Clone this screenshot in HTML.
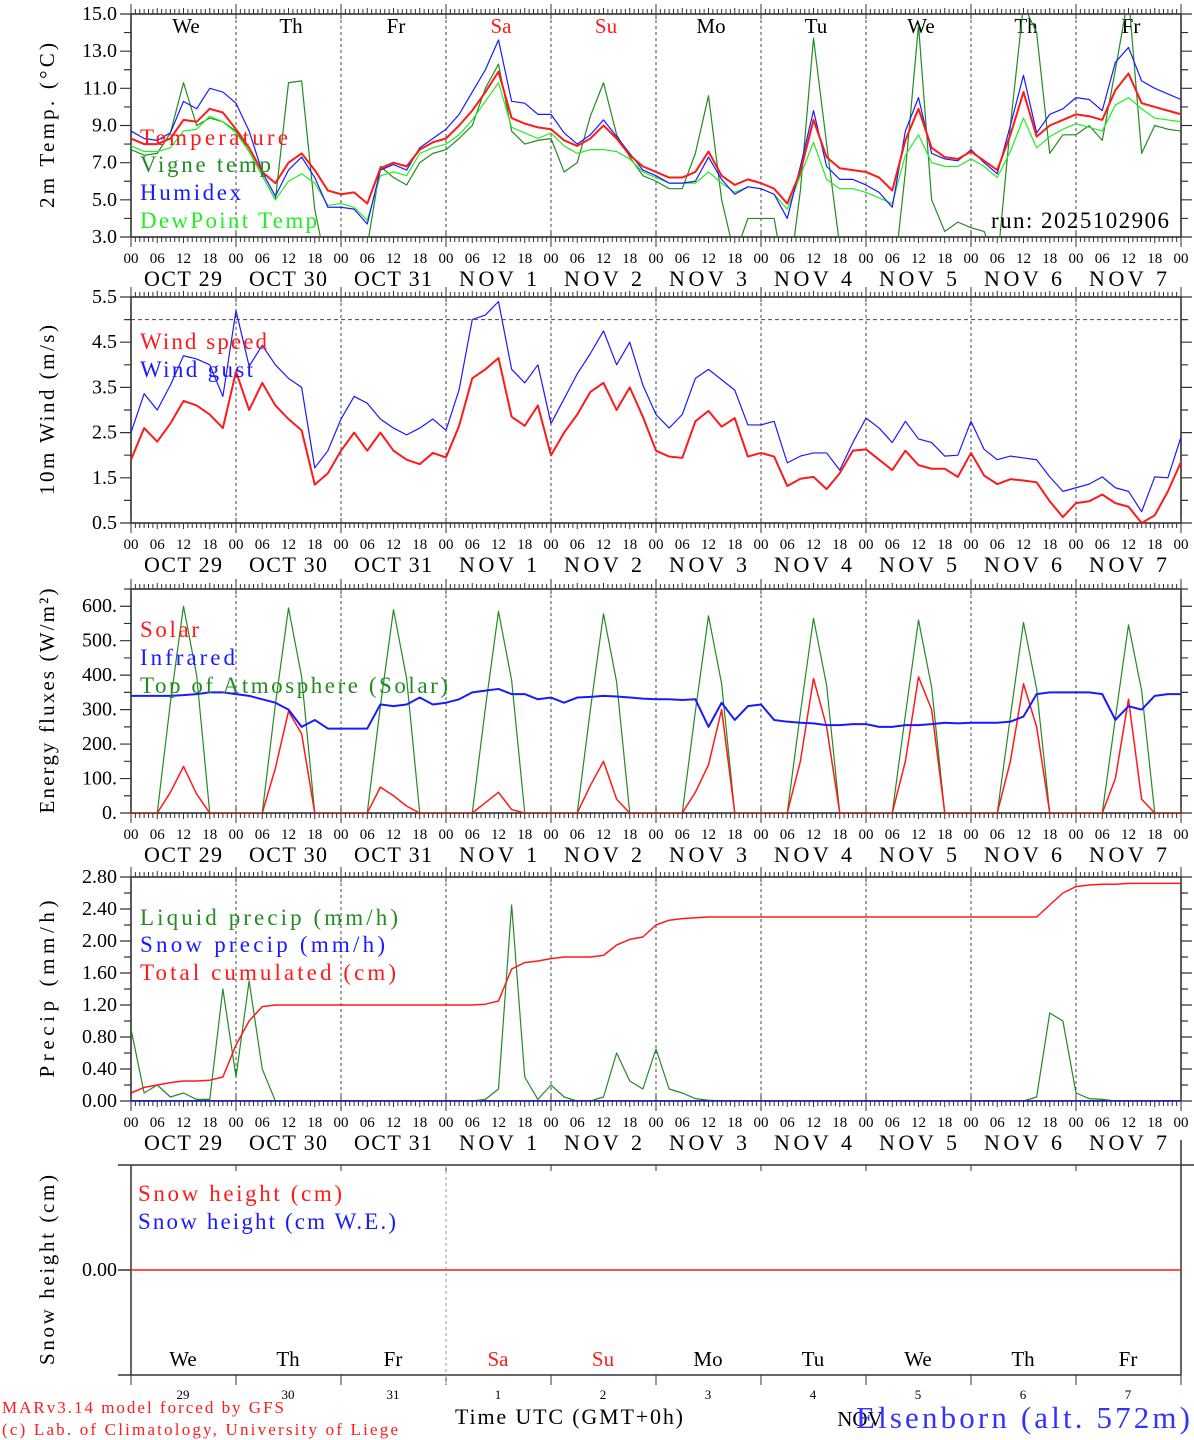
<!DOCTYPE html>
<html><head><meta charset="utf-8"><title>MAR forecast Elsenborn</title>
<style>
html,body{margin:0;padding:0;background:#fff;}
svg{display:block;}
text{font-family:"Liberation Serif","DejaVu Serif",serif;}
.num{font-family:"Liberation Serif","DejaVu Serif",serif;}
</style></head>
<body>
<svg id="chart" width="1194" height="1440" viewBox="0 0 1194 1440" xmlns="http://www.w3.org/2000/svg">
<defs>
<clipPath id="c1"><rect x="131" y="14" width="1050" height="223"/></clipPath>
<clipPath id="c2"><rect x="131" y="297" width="1050" height="226"/></clipPath>
<clipPath id="c3"><rect x="131" y="589" width="1050" height="224"/></clipPath>
<clipPath id="c4"><rect x="131" y="877" width="1050" height="224"/></clipPath>
</defs>
<g id="g"></g>
</svg>
<script>
// ---- data (3-hourly, Oct 29 00 UTC to Nov 8 00 UTC) ----
const dateLabels=["OCT 29","OCT 30","OCT 31","NOV  1","NOV  2","NOV  3","NOV  4","NOV  5","NOV  6","NOV  7"];
const dayNames=["We","Th","Fr","Sa","Su","Mo","Tu","We","Th","Fr"];
const dayNums=["29","30","31","1","2","3","4","5","6","7"];
const hourLabels=["00","06","12","18"];
const tempTicks=[3,5,7,9,11,13,15];
const windTicks=[0.5,1.5,2.5,3.5,4.5,5.5];
const energyTicks=[0,100,200,300,400,500,600];
const precipTicks=[0,0.4,0.8,1.2,1.6,2.0,2.4,2.8];

const temperature=[8.3,8.0,8.0,8.3,9.3,9.2,9.9,9.7, 8.8,7.8,6.5,5.9,7.0,7.5,6.6,5.5, 5.3,5.4,4.8,6.7,7.0,6.8,7.7,8.1,
 8.3,9.0,9.8,10.8,11.9,9.4,9.1,8.9, 8.8,8.2,7.9,8.3,9.0,8.3,7.4,6.8, 6.5,6.2,6.2,6.5,7.6,6.3,5.8,6.1,
 5.9,5.6,4.8,6.5,9.3,7.3,6.7,6.6, 6.5,6.2,5.5,8.2,9.9,7.8,7.3,7.2, 7.6,7.1,6.6,8.5,10.8,8.4,9.0,9.3,
 9.6,9.5,9.3,10.9,11.8,10.2,10.0,9.8,9.6];
const humidex=[8.7,8.3,8.2,8.6,10.3,9.9,11.0,10.8, 10.2,8.7,6.5,5.2,6.6,7.3,6.2,4.6, 4.6,4.5,3.7,6.6,6.9,6.6,7.8,8.3,
 8.8,9.6,10.8,12.0,13.6,10.3,10.2,9.6, 9.6,8.6,8.0,8.5,9.3,8.4,7.5,6.6, 6.3,5.9,5.9,6.0,7.3,6.1,5.3,5.7,
 5.6,5.3,4.0,6.8,9.8,6.8,6.1,6.1, 5.8,5.4,4.6,8.7,10.5,7.5,7.2,7.1, 7.7,7.0,6.4,9.0,11.7,8.6,9.6,9.9,
 10.5,10.4,9.8,12.4,13.2,11.4,11.0,10.7,10.4];
const dewPoint=[7.9,7.6,7.6,7.8,8.7,8.8,9.5,9.2, 8.6,7.6,6.3,5.0,6.0,6.4,5.9,4.7, 4.8,4.6,3.9,6.3,6.5,6.3,7.5,7.8,
 8.0,8.5,9.3,10.3,11.3,8.9,8.6,8.3, 8.6,7.9,7.5,7.7,7.7,7.6,7.2,6.5, 6.2,5.9,5.9,5.9,6.5,5.9,5.4,5.7,
 5.6,5.3,4.5,6.3,8.1,6.1,5.6,5.6, 5.4,5.1,4.8,7.4,8.5,7.0,6.8,6.8, 7.2,6.8,6.2,7.6,9.4,7.8,8.4,8.8,
 9.1,8.9,8.7,10.1,10.5,9.9,9.4,9.3,9.2];
const vigneTemp=[7.7,7.4,7.5,8.6,11.3,9.0,9.4,9.2, 8.7,7.6,6.3,5.0,11.3,11.4,4.5,1.0, -1.0,1.5,2.5,6.8,6.2,5.8,7.0,7.5,
 7.7,8.3,9.0,11.0,12.3,8.7,8.0,8.2, 8.3,6.5,7.0,9.5,11.3,8.5,7.3,6.3, 6.0,5.6,5.6,7.5,10.6,5.0,2.0,4.0,
 4.0,4.0,0.0,5.5,13.7,8.0,2.5,0.0, 0.0,0.0,0.0,6.5,14.4,5.0,3.3,3.8, 3.5,3.3,1.5,9.0,15.5,14.0,7.5,8.5,
 8.5,9.0,8.2,12.0,16.0,7.5,9.0,8.8,8.7];

const windSpeed=[1.9,2.6,2.3,2.7,3.2,3.1,2.9,2.6, 3.85,3.0,3.6,3.1,2.8,2.55,1.35,1.6, 2.1,2.5,2.1,2.5,2.1,1.9,1.8,2.05,
 1.95,2.65,3.7,3.9,4.15,2.85,2.65,3.1, 2.0,2.5,2.9,3.4,3.6,3.0,3.5,2.85, 2.1,1.97,1.94,2.75,2.98,2.63,2.82,1.97,
 2.05,1.97,1.32,1.48,1.52,1.25,1.6,2.1, 2.13,1.9,1.67,2.1,1.78,1.7,1.7,1.52, 2.05,1.55,1.36,1.47,1.44,1.4,0.98,0.63,
 0.94,0.98,1.13,0.94,0.86,0.5,0.67,1.2,1.85];
const windGust=[2.5,3.36,3.0,3.55,4.2,4.13,4.0,3.3, 5.2,3.97,4.43,4.0,3.7,3.5,1.72,2.1, 2.8,3.3,3.15,2.8,2.6,2.45,2.6,2.8,
 2.55,3.45,5.0,5.1,5.4,3.9,3.6,4.0, 2.7,3.25,3.8,4.25,4.75,4.0,4.5,3.55, 2.9,2.6,2.9,3.7,3.9,3.67,3.44,2.67,
 2.67,2.75,1.83,1.98,2.05,2.05,1.67,2.28, 2.82,2.6,2.28,2.75,2.36,2.28,1.98,2.0, 2.75,2.13,1.9,1.98,1.94,1.9,1.52,1.2,
 1.28,1.36,1.52,1.28,1.2,0.75,1.52,1.5,2.4];

const solar=[0,0,0,60,135,55,0,0, 0,0,0,130,295,230,0,0, 0,0,0,75,50,20,0,0, 0,0,0,30,60,10,0,0,
 0,0,0,80,150,40,0,0, 0,0,0,60,140,300,0,0, 0,0,0,150,390,250,0,0, 0,0,0,150,395,300,0,0,
 0,0,0,150,375,250,0,0, 0,0,0,100,330,40,0,0,0];
const infrared=[340,340,340,340,342,345,350,350, 345,340,330,320,300,250,270,245, 245,245,245,315,310,315,335,315,
 320,330,350,355,360,345,345,330, 335,320,335,337,340,338,335,332, 330,330,328,330,250,320,270,310,
 315,270,265,262,260,255,255,258, 258,250,250,255,255,258,262,260, 262,262,262,265,280,345,350,350,
 350,350,345,270,310,300,340,345,345];
const toaSolar=[0,0,0,320,600,400,0,0, 0,0,0,315,595,395,0,0, 0,0,0,310,590,390,0,0, 0,0,0,305,585,385,0,0,
 0,0,0,300,578,380,0,0, 0,0,0,295,572,375,0,0, 0,0,0,290,565,370,0,0, 0,0,0,285,560,365,0,0,
 0,0,0,280,553,360,0,0, 0,0,0,275,546,355,0,0,0];

const liquidPrecip=[0.9,0.1,0.2,0.05,0.1,0.02,0.02,1.4, 0.3,1.5,0.4,0,0,0,0,0, 0,0,0,0,0,0,0,0,
 0,0,0,0.02,0.15,2.45,0.3,0.02, 0.2,0.05,0,0,0.05,0.6,0.25,0.15, 0.65,0.15,0.1,0.03,0.01,0,0,0,
 0,0,0,0,0,0,0,0, 0,0,0,0,0,0,0,0, 0,0,0,0,0,0.05,1.1,1.0, 0.1,0.03,0.02,0,0,0,0,0,0];
const snowPrecip=[0,0,0,0,0,0,0,0, 0,0,0,0,0,0,0,0, 0,0,0,0,0,0,0,0, 0,0,0,0,0,0,0,0, 0,0,0,0,0,0,0,0,
 0,0,0,0,0,0,0,0, 0,0,0,0,0,0,0,0, 0,0,0,0,0,0,0,0, 0,0,0,0,0,0,0,0, 0,0,0,0,0,0,0,0,0];
const totalCumulated=[0.1,0.17,0.2,0.23,0.25,0.25,0.26,0.3, 0.7,1.0,1.18,1.2,1.2,1.2,1.2,1.2, 1.2,1.2,1.2,1.2,1.2,1.2,1.2,1.2,
 1.2,1.2,1.2,1.21,1.25,1.65,1.73,1.75, 1.78,1.8,1.8,1.8,1.82,1.95,2.02,2.05, 2.2,2.26,2.28,2.29,2.3,2.3,2.3,2.3,
 2.3,2.3,2.3,2.3,2.3,2.3,2.3,2.3, 2.3,2.3,2.3,2.3,2.3,2.3,2.3,2.3, 2.3,2.3,2.3,2.3,2.3,2.3,2.45,2.6,
 2.68,2.7,2.71,2.71,2.72,2.72,2.72,2.72,2.72];
const snowHeight=[0,0];

// ---- helpers ----
const NS="http://www.w3.org/2000/svg";
const G=document.getElementById("g");
const X0=131, X1=1181, DAYW=105;
function xAt(i){return X0+i*DAYW/8;}
function mk(tag,attrs,name,parent){
  const el=document.createElementNS(NS,tag);
  for(const k in attrs) el.setAttribute(k,attrs[k]);
  
  
  (parent||G).appendChild(el);
  return el;
}
function txt(x,y,s,opts,name){
  const a={x:x,y:y,fill:opts.fill||"#000","font-size":opts.size||16};
  if(opts.anchor) a["text-anchor"]=opts.anchor;
  if(opts.cls) a["class"]=opts.cls;
  if(opts.tl){a.textLength=opts.tl;a.lengthAdjust="spacing";}
  if(opts.tr) a.transform=opts.tr;
  const t=mk("text",a,name);
  t.textContent=s;
  return t;
}
function panel(p){
  const ys=v=>p.bot-(v-p.vmin)*(p.bot-p.top)/(p.vmax-p.vmin);
  mk("rect",{x:X0,y:p.top,width:X1-X0,height:p.bot-p.top,fill:"none",stroke:"#222","stroke-width":1.5},p.id+"-frame");
  let d="";
  for(let h=0;h<=240;h++){
    const x=X0+h*DAYW/24;
    const L=(h%24===0)?10:(h%6===0?6:5);
    d+="M"+x.toFixed(2)+" "+p.top+"v"+(-L)+"M"+x.toFixed(2)+" "+p.bot+"v"+L;
    if(h%24===0){d+="M"+x.toFixed(2)+" "+p.top+"v5M"+x.toFixed(2)+" "+p.bot+"v-5";}
  }
  mk("path",{d:d,stroke:"#333","stroke-width":1,fill:"none"},p.id+"-time-ticks");
  let yd="";
  for(let v=p.vmin;v<=p.vmax+1e-9;v+=p.minor){
    const y=ys(v).toFixed(2);
    const major=p.ticks.some(t=>Math.abs(t-v)<1e-6);
    const L=major?11:7;
    yd+="M"+X0+" "+y+"h"+(-L)+"M"+X1+" "+y+"h"+L;
  }
  mk("path",{d:yd,stroke:"#333","stroke-width":1.2,fill:"none"},p.id+"-y-ticks");
  p.ticks.forEach(v=>{
    txt(117,ys(v)+6,p.fmt(v),{size:20,anchor:"end",cls:"num"},p.id+"-y-tick-label");
  });
  let dd="";
  for(let k=1;k<10;k++){const x=X0+k*DAYW;dd+="M"+x+" "+p.top+"V"+p.bot;}
  mk("path",{d:dd,stroke:"#444","stroke-width":1,"stroke-dasharray":"3,3",fill:"none"},p.id+"-day-gridlines");
  for(let k=0;k<=10;k++){
    for(let j=0;j<4;j++){
      if(k===10&&j>0) break;
      const x=X0+k*DAYW+j*DAYW/4;
      txt(x,p.bot+26,hourLabels[j],{size:15,anchor:"middle",cls:"num"},p.id+"-hour-label");
    }
  }
  for(let k=0;k<10;k++){
    txt(X0+k*DAYW+52,p.bot+49,dateLabels[k],{size:22,anchor:"middle",tl:78},p.id+"-date-label");
  }
  const cy=(p.top+p.bot)/2;
  txt(54,cy,p.title,{size:21,anchor:"middle",tl:p.ttl,tr:"rotate(-90 54 "+cy+")"},p.id+"-y-axis-title");
  return ys;
}
function line(arr,ys,color,w,clip,name){
  let pts=arr.map((v,i)=>xAt(i).toFixed(2)+","+ys(v).toFixed(2)).join(" ");
  return mk("polyline",{points:pts,fill:"none",stroke:color,"stroke-width":w,"stroke-linejoin":"round","clip-path":"url(#"+clip+")"},name);
}

const RED="#ff1a1a", DG="#228b22", BL="#1a1aff", LG="#22ee22";
const LS=23;

// ---- Panel 1: temperature ----
const y1=panel({id:"temp-panel",top:14,bot:237,vmin:3,vmax:15,minor:1,ticks:tempTicks,fmt:v=>v.toFixed(1),title:"2m Temp. (\u00B0C)",ttl:165});
for(let k=0;k<10;k++){
  const red=(k===3||k===4);
  txt(X0+k*DAYW+55,33,dayNames[k],{size:21,anchor:"middle",fill:red?RED:"#000"},"temp-day-name");
}
line(vigneTemp,y1,DG,1.2,"c1","vigne-temp-line");
line(dewPoint,y1,LG,1.2,"c1","dewpoint-line");
line(humidex,y1,BL,1.2,"c1","humidex-line");
line(temperature,y1,RED,2,"c1","temperature-line");
txt(140,145,"Temperature",{size:LS,fill:RED,tl:148},"legend-temperature");
txt(140,172,"Vigne temp",{size:LS,fill:DG,tl:131},"legend-vigne-temp");
txt(140,200,"Humidex",{size:LS,fill:BL,tl:101},"legend-humidex");
txt(140,228,"DewPoint Temp",{size:LS,fill:LG,tl:177},"legend-dewpoint");
txt(1169,228,"run: 2025102906",{size:LS,anchor:"end",tl:178},"run-label");

// ---- Panel 2: wind ----
const y2=panel({id:"wind-panel",top:297,bot:523,vmin:0.5,vmax:5.5,minor:0.5,ticks:windTicks,fmt:v=>v.toFixed(1),title:"10m Wind (m/s)",ttl:170});
mk("line",{x1:X0,x2:X1,y1:y2(5),y2:y2(5),stroke:"#444","stroke-dasharray":"4,3"},"wind-threshold-line");
line(windGust,y2,BL,1.2,"c2","wind-gust-line");
line(windSpeed,y2,RED,2,"c2","wind-speed-line");
txt(140,349,"Wind speed",{size:LS,fill:RED,tl:127},"legend-wind-speed");
txt(140,377,"Wind gust",{size:LS,fill:BL,tl:113},"legend-wind-gust");

// ---- Panel 3: energy ----
const y3=panel({id:"energy-panel",top:589,bot:813,vmin:0,vmax:650,minor:50,ticks:energyTicks,fmt:v=>v+".",title:"Energy fluxes (W/m\u00B2)",ttl:225});
line(toaSolar,y3,DG,1.2,"c3","toa-solar-line");
line(solar,y3,RED,1.5,"c3","solar-line");
line(infrared,y3,BL,2,"c3","infrared-line");
txt(140,637,"Solar",{size:LS,fill:RED,tl:59},"legend-solar");
txt(140,665,"Infrared",{size:LS,fill:BL,tl:95},"legend-infrared");
txt(140,693,"Top of Atmosphere (Solar)",{size:LS,fill:DG,tl:308},"legend-toa");

// ---- Panel 4: precip ----
const y4=panel({id:"precip-panel",top:877,bot:1101,vmin:0,vmax:2.8,minor:0.2,ticks:precipTicks,fmt:v=>v.toFixed(2),title:"Precip (mm/h)",ttl:177});
line(liquidPrecip,y4,DG,1.2,"c4","liquid-precip-line");
line(snowPrecip,y4,BL,2,"c4","snow-precip-line");
line(totalCumulated,y4,RED,1.5,"c4","total-cumulated-line");
txt(140,925,"Liquid precip (mm/h)",{size:LS,fill:DG,tl:258},"legend-liquid");
txt(140,952,"Snow precip (mm/h)",{size:LS,fill:BL,tl:245},"legend-snow-precip");
txt(140,980,"Total cumulated (cm)",{size:LS,fill:RED,tl:256},"legend-total");

// ---- Panel 5: snow height ----
const Y0=1270;
mk("path",{d:"M131 1165V1375M118 1375H1181M1181 1375V1140M118 1165H1194M118 1270H131",stroke:"#333","stroke-width":1.5,fill:"none"},"snow-panel-frame");
let sd="";
for(let k=1;k<10;k++){const x=X0+k*DAYW;sd+="M"+x+" 1165v6M"+x+" 1375v10";}
sd+="M131 1375v10M1181 1375v10";
mk("path",{d:sd,stroke:"#333","stroke-width":1,fill:"none"},"snow-day-ticks");
mk("line",{x1:446,x2:446,y1:1165,y2:1385,stroke:"#999","stroke-dasharray":"3,3"},"snow-now-line");
mk("line",{x1:X0,x2:X1,y1:Y0-(snowHeight[0]),y2:Y0-(snowHeight[1]),stroke:RED,"stroke-width":1.5},"snow-height-line");
txt(117,1276,"0.00",{size:20,anchor:"end",cls:"num"},"snow-y-tick-label");
txt(54,1270,"Snow height (cm)",{size:21,anchor:"middle",tl:190,tr:"rotate(-90 54 1270)"},"snow-y-axis-title");
txt(138,1201,"Snow height (cm)",{size:LS,fill:RED,tl:204},"legend-snow-height");
txt(138,1229,"Snow height (cm W.E.)",{size:LS,fill:BL,tl:258},"legend-snow-we");
for(let k=0;k<10;k++){
  const red=(k===3||k===4);
  txt(X0+k*DAYW+52,1366,dayNames[k],{size:21,anchor:"middle",fill:red?RED:"#000"},"snow-day-name");
  txt(X0+k*DAYW+52,1399,dayNums[k],{size:13,anchor:"middle",cls:"num"},"snow-day-number");
}
txt(569,1424,"Time UTC (GMT+0h)",{size:22,anchor:"middle",tl:228},"x-axis-title");
txt(860,1426,"NOV",{size:21,anchor:"middle"},"x-month-label");
txt(1190,1428,"Elsenborn (alt. 572m)",{size:31,anchor:"end",fill:"#3333ff",tl:334},"station-title");
txt(2,1413,"MARv3.14 model forced by GFS",{size:17,fill:RED,tl:282},"credit-model");
txt(2,1435,"(c) Lab. of Climatology, University of Liege",{size:17,fill:RED,tl:396},"credit-lab");
</script>
</body></html>
